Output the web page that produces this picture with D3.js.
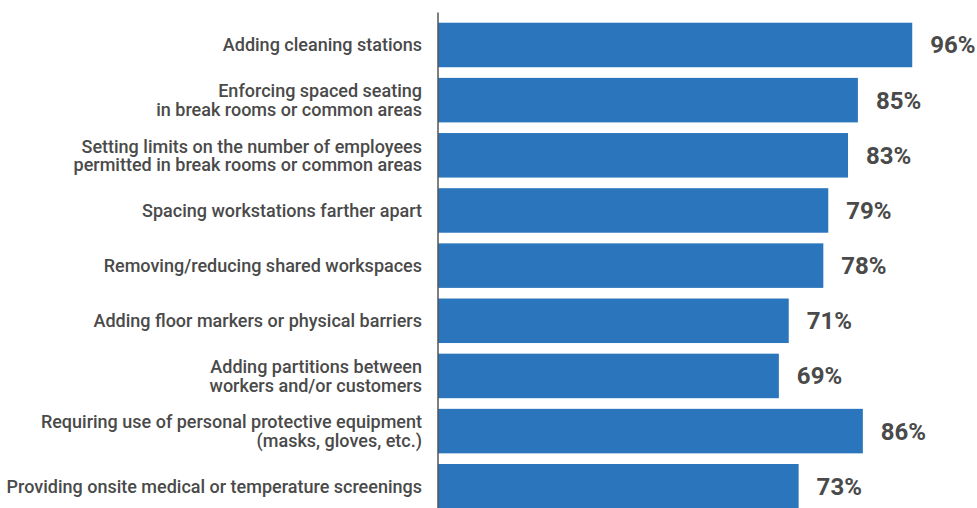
<!DOCTYPE html>
<html>
<head>
<meta charset="utf-8">
<script src="https://cdn.jsdelivr.net/npm/d3@7"></script>
<style>
  html, body { margin: 0; padding: 0; background: #fff; }
  svg { display: block; }
</style>
</head>
<body>
<div id="chart"></div>
<script>
const categories = [
    "Adding cleaning stations",
    "Enforcing spaced seating\nin break rooms or common areas",
    "Setting limits on the number of employees\npermitted in break rooms or common areas",
    "Spacing workstations farther apart",
    "Removing/reducing shared workspaces",
    "Adding floor markers or physical barriers",
    "Adding partitions between\nworkers and/or customers",
    "Requiring use of personal protective equipment\n(masks, gloves, etc.)",
    "Providing onsite medical or temperature screenings",
];
const values = [96, 85, 83, 79, 78, 71, 69, 86, 73];

const width = 977;
const height = 508;
const axisX = 438;
const barColor = "#2a75bb";
const textColor = "#4a4a4a";

const data = categories.map((c, i) => ({ label: c, value: values[i] }));

const svg = d3.select("#chart")
    .append("svg")
    .attr("width", width)
    .attr("height", height)
    .style("font-family", "Roboto, 'Noto Sans', sans-serif");

// x: 0% at the axis, 100% ~ 932px
const x = d3.scaleLinear()
    .domain([0, 100])
    .range([axisX, 932]);

const y = d3.scaleBand()
    .domain(categories)
    .range([17.4, 17.4 + 9 * 55.16])
    .paddingInner(0.193)
    .paddingOuter(0.0965);

// bars
svg.append("g")
    .selectAll("rect")
    .data(data)
    .join("rect")
    .attr("x", x(0))
    .attr("y", (d) => y(d.label))
    .attr("width", (d) => x(d.value) - x(0))
    .attr("height", y.bandwidth())
    .attr("fill", barColor);

// vertical axis line
svg.append("line")
    .attr("x1", axisX)
    .attr("x2", axisX)
    .attr("y1", 12.5)
    .attr("y2", height)
    .attr("stroke", "#555")
    .attr("stroke-width", 1.5);

// category labels (multi-line)
const lineH = 18.5;
const labels = svg.append("g")
    .selectAll("text")
    .data(data)
    .join("text")
    .attr("x", axisX - 16)
    .attr("text-anchor", "end")
    .style("font-size", "18px")
    .style("font-weight", 500)
    .style("fill", textColor)
    .attr("y", (d) => y(d.label) + y.bandwidth() / 2);

labels.each(function(d) {
    const lines = d.label.split("\n");
    const t = d3.select(this);
    lines.forEach((ln, i) => {
        t.append("tspan")
            .attr("x", axisX - 16)
            .attr("dy", i === 0 ? ((-(lines.length - 1) / 2) * lineH + 6.5) : lineH)
            .text(ln);
    });
});

// value labels
svg.append("g")
    .selectAll("text")
    .data(data)
    .join("text")
    .attr("x", (d) => x(d.value) + 18)
    .attr("y", (d) => y(d.label) + y.bandwidth() / 2)
    .attr("dy", "0.35em")
    .style("font-size", "24px")
    .style("font-weight", "bold")
    .style("fill", textColor)
    .text((d) => d.value + "%");
</script>
</body>
</html>
